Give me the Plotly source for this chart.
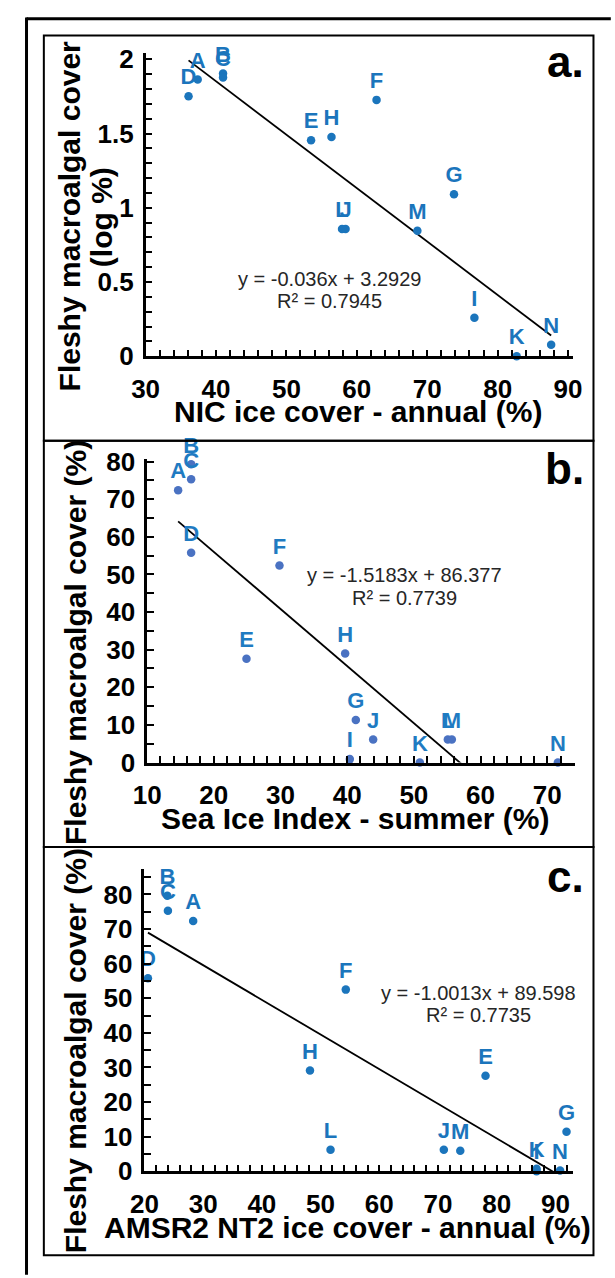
import plotly.graph_objects as go

W, H = 615, 1278
FONT = "Liberation Sans, Arial, sans-serif"

# ---------------- data ----------------
labels_a = ["A", "B", "C", "D", "E", "F", "G", "H", "I", "J", "K", "L", "M", "N"]
x_a = [37.4, 41.0, 41.0, 36.1, 53.5, 62.8, 73.8, 56.4, 76.7, 58.4, 82.7, 57.9, 68.6, 87.6]
y_a = [1.864, 1.905, 1.878, 1.752, 1.455, 1.727, 1.092, 1.477, 0.259, 0.857, 0.0, 0.857, 0.846, 0.077]
trend_a_x = [36.1, 87.6]
slope_a, icpt_a = -0.036, 3.2929

labels_b = ["A", "B", "C", "D", "E", "F", "G", "H", "I", "J", "K", "L", "M", "N"]
x_b = [14.65, 16.6, 16.6, 16.6, 24.9, 29.85, 41.3, 39.7, 40.4, 43.9, 50.9, 55.1, 55.7, 71.6]
y_b = [72.4, 79.3, 75.3, 55.8, 27.6, 52.4, 11.3, 29.0, 0.9, 6.1, 0.0, 6.1, 6.1, 0.0]
trend_b_x = [14.65, 71.6]
slope_b, icpt_b = -1.5183, 86.377

labels_c = ["A", "B", "C", "D", "E", "F", "G", "H", "I", "J", "K", "L", "M", "N"]
x_c = [28.3, 23.9, 24.0, 20.6, 78.1, 54.3, 91.9, 48.2, 86.8, 71.0, 86.8, 51.7, 73.8, 90.8]
y_c = [72.3, 79.6, 75.3, 55.8, 27.6, 52.5, 11.4, 29.1, 0.0, 6.2, 0.75, 6.2, 5.9, 0.2]
trend_c_x = [20.6, 91.9]
slope_c, icpt_c = -1.0013, 89.598

eq_a = ["y = -0.036x + 3.2929", "R² = 0.7945"]
eq_b = ["y = -1.5183x + 86.377", "R² = 0.7739"]
eq_c = ["y = -1.0013x + 89.598", "R² = 0.7735"]

xtitle_a = "NIC ice cover - annual (%)"
xtitle_b = "Sea Ice Index - summer (%)"
xtitle_c = "AMSR2 NT2 ice cover - annual (%)"
ytitle_a = ["Fleshy macroalgal cover", "(log %)"]
ytitle_bc = "Fleshy macroalgal cover (%)"
panel_tags = ["a.", "b.", "c."]


def px(x):
    return x / W


def py(y):
    return 1 - y / H


fig = go.Figure()

panels = [
    dict(x=x_a, y=y_a, lab=labels_a, tx=trend_a_x, s=slope_a, b=icpt_a,
         dot="#1b75bc", txt="#1b75bc", ax="", dom_x=(136.7, 580.7), dom_y=(41.7, 351.7),
         xr=[30, 90.7], yr=[0, 2.044], xd=10, xm=2, yd=0.5, ym=0.1, x0=30),
    dict(x=x_b, y=y_b, lab=labels_b, tx=trend_b_x, s=slope_b, b=icpt_b,
         dot="#4a72c2", txt="#1f7bc2", ax="2", dom_x=(138.3, 582.3), dom_y=(456.7, 766.7),
         xr=[10, 74.1], yr=[0, 80.7], xd=10, xm=2, yd=10, ym=5, x0=10),
    dict(x=x_c, y=y_c, lab=labels_c, tx=trend_c_x, s=slope_c, b=icpt_c,
         dot="#1b75bc", txt="#1b75bc", ax="3", dom_x=(135.5, 580.7), dom_y=(875.0, 1184.3),
         xr=[20, 93.0], yr=[0, 87.5], xd=10, xm=2, yd=10, ym=5, x0=20),
]

layout_axes = {}
for p in panels:
    xa = "x" + p["ax"]
    ya = "y" + p["ax"]
    ty = [p["s"] * v + p["b"] for v in p["tx"]]
    fig.add_trace(go.Scatter(x=p["tx"], y=ty, mode="lines", xaxis=xa, yaxis=ya,
                             line=dict(color="black", width=1.8), showlegend=False,
                             hoverinfo="skip"))
    fig.add_trace(go.Scatter(x=p["x"], y=p["y"], mode="markers+text", text=p["lab"],
                             textposition="top center", xaxis=xa, yaxis=ya,
                             marker=dict(color=p["dot"], size=8.5),
                             textfont=dict(family=FONT, size=22, color=p["txt"], weight="bold"),
                             cliponaxis=False, showlegend=False))
    common = dict(showline=True, linecolor="black", linewidth=2.5, showgrid=False,
                  zeroline=False, ticks="inside", ticklen=7, tickwidth=1.6, tickcolor="black",
                  tickfont=dict(family=FONT, size=26, color="black", weight="bold"))
    layout_axes["xaxis" + p["ax"]] = dict(
        domain=[px(p["dom_x"][0]), px(p["dom_x"][1])], range=p["xr"], anchor=ya,
        tick0=p["x0"], dtick=p["xd"], ticklabelstandoff=8,
        minor=dict(ticks="inside", dtick=p["xm"], ticklen=7, tickwidth=1.6, tickcolor="black", showgrid=False),
        **common)
    layout_axes["yaxis" + p["ax"]] = dict(
        domain=[py(p["dom_y"][1]), py(p["dom_y"][0])], range=p["yr"], anchor=xa,
        tick0=0, dtick=p["yd"], ticklabelstandoff=4,
        minor=dict(ticks="inside", dtick=p["ym"], ticklen=7, tickwidth=1.6, tickcolor="black", showgrid=False),
        **common)

fig.update_layout(**layout_axes)

ann = []


def add_text(text, x, y, size, bold=True, color="black", angle=0, xanchor="center"):
    ann.append(dict(text=text, x=px(x), y=py(y), xref="paper", yref="paper",
                    showarrow=False, xanchor=xanchor, yanchor="middle", textangle=angle,
                    font=dict(family=FONT, size=size, color=color,
                              weight="bold" if bold else "normal")))


# axis titles
add_text(xtitle_a, 357.5, 408, 30)
add_text(xtitle_b, 354.7, 824, 30)
add_text(xtitle_c, 346.0, 1242, 30)
add_text(ytitle_a[0], 58, 209, 30, angle=-90)
add_text(ytitle_a[1], 91, 210, 30, angle=-90)
add_text(ytitle_bc, 64, 644, 30, angle=-90)
add_text(ytitle_bc, 64, 1061, 30, angle=-90)

# equations
for eq, cx, y1, y2 in [(eq_a, 327.7, 272.7, 295), (eq_b, 405.3, 575, 598.3), (eq_c, 482.5, 1002.3, 1025)]:
    add_text(eq[0], cx, y1, 20, bold=False, color="#262626")
    add_text(eq[1], cx, y2, 20, bold=False, color="#262626")

# panel tags
add_text(panel_tags[0], 594, 50.5, 44, xanchor="right")
add_text(panel_tags[1], 594, 466, 44, xanchor="right")
add_text(panel_tags[2], 594, 883, 44, xanchor="right")

shapes = []
# outer border (top and left)
shapes.append(dict(type="line", xref="paper", yref="paper", x0=px(13), x1=px(620), y0=py(7), y1=py(7),
                   line=dict(color="black", width=3)))
shapes.append(dict(type="line", xref="paper", yref="paper", x0=px(13), x1=px(13), y0=py(5.5), y1=py(1290),
                   line=dict(color="black", width=3)))
# inner panel boxes
for top, bot in [(24, 438), (438, 853), (853, 1270)]:
    shapes.append(dict(type="rect", xref="paper", yref="paper", x0=px(31), x1=px(602), y0=py(bot), y1=py(top),
                       line=dict(color="black", width=2)))

fig.update_layout(annotations=ann, shapes=shapes, width=W, height=H,
                  margin=dict(l=0, r=0, t=0, b=0), paper_bgcolor="white", plot_bgcolor="white",
                  showlegend=False)

fig.write_html("out.html")
